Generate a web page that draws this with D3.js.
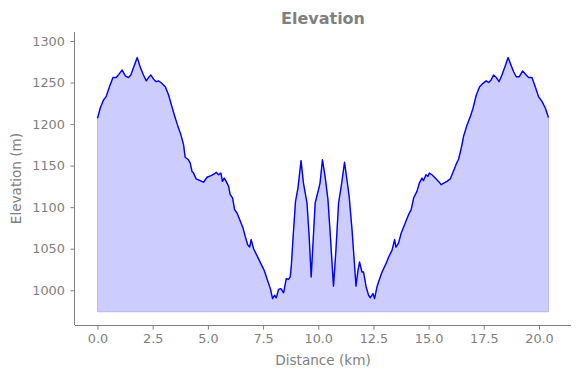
<!DOCTYPE html>
<html>
<head>
<meta charset="utf-8">
<script src="https://cdn.jsdelivr.net/npm/d3@7"></script>
<style>
  body { margin: 0; background: #fff; }
  svg { display: block; font-family: "DejaVu Sans", sans-serif; }
</style>
</head>
<body>
<svg id="chart" width="580" height="378"></svg>
<script>
const distanceKm = [
  0.00, 0.12, 0.27, 0.39, 0.54, 0.70, 0.85, 1.00, 1.12, 1.26, 1.40, 1.51, 1.63, 1.80, 1.93,
  2.08, 2.21, 2.31, 2.42, 2.54, 2.66, 2.76, 2.87, 3.07, 3.22, 3.37, 3.48, 3.62, 3.78, 3.90,
  3.97, 4.12, 4.20, 4.28, 4.35, 4.47, 4.65, 4.80, 4.96, 5.14, 5.29, 5.38, 5.48, 5.59, 5.66,
  5.74, 5.83, 5.94, 6.01, 6.12, 6.21, 6.32, 6.47, 6.59, 6.69, 6.80, 6.89, 6.96, 7.07, 7.22,
  7.40, 7.55, 7.70, 7.83, 7.93, 8.02, 8.10, 8.20, 8.31, 8.43, 8.55, 8.65, 8.73, 8.78, 8.88,
  8.97, 9.08, 9.22, 9.33, 9.49, 9.59, 9.68, 9.86, 10.01, 10.08, 10.19, 10.31, 10.44, 10.54,
  10.69, 10.80, 10.92, 11.04, 11.19, 11.30, 11.40, 11.53, 11.71, 11.80, 11.87, 11.98, 12.05,
  12.17, 12.28, 12.36, 12.48, 12.55, 12.66, 12.73, 12.89, 13.07, 13.19, 13.34, 13.46, 13.52,
  13.64, 13.76, 13.94, 14.09, 14.21, 14.32, 14.47, 14.58, 14.70, 14.77, 14.88, 14.97, 15.03,
  15.15, 15.30, 15.45, 15.57, 15.68, 15.83, 15.98, 16.09, 16.21, 16.25, 16.36, 16.51, 16.58,
  16.74, 16.89, 17.01, 17.16, 17.31, 17.46, 17.61, 17.72, 17.83, 17.94, 18.07, 18.19, 18.32,
  18.47, 18.60, 18.73, 18.85, 18.97, 19.11, 19.26, 19.42, 19.53, 19.68, 19.83, 19.98, 20.14,
  20.29, 20.43
];
const elevationM = [
  1207, 1219, 1229, 1233, 1245, 1256, 1256, 1261, 1265, 1258, 1256, 1259, 1268, 1280, 1269,
  1259, 1252, 1256, 1259, 1254, 1251, 1252, 1250, 1245, 1235, 1221, 1211, 1199, 1187, 1175,
  1160, 1157, 1153, 1143, 1141, 1134, 1132, 1130, 1136, 1138, 1140, 1142, 1139, 1141, 1131,
  1135, 1131, 1125, 1115, 1111, 1097, 1093, 1083, 1075, 1065, 1055, 1052, 1061, 1050, 1042,
  1032, 1024, 1012, 1002, 990, 994, 991, 1001, 1002, 997, 1014, 1013, 1016, 1030, 1072,
  1107, 1123, 1156, 1129, 1105, 1064, 1016, 1105, 1121, 1129, 1157, 1137, 1109, 1069,
  1005, 1048, 1105, 1125, 1154, 1133, 1113, 1073, 1005, 1024, 1034, 1022, 1022,
  1004, 994, 991, 996, 990, 1004, 1010, 1022, 1032, 1040, 1048, 1061, 1052,
  1057, 1069, 1081, 1091, 1097, 1111, 1119, 1129, 1135, 1132, 1139, 1137, 1141,
  1139, 1135, 1131, 1127, 1129, 1131, 1134, 1141, 1149, 1152, 1158, 1175, 1185,
  1199, 1209, 1219, 1235, 1245, 1249, 1252, 1250, 1253, 1259, 1256, 1251, 1259,
  1270, 1280, 1271, 1263, 1257, 1257, 1264, 1259, 1256, 1256, 1245, 1233, 1227,
  1219, 1208
];
const xTicks = [0, 2.5, 5, 7.5, 10, 12.5, 15, 17.5, 20];
const yTicks = [1000, 1050, 1100, 1150, 1200, 1250, 1300];
const fillBase = 974;
const xDomain = [-1.02, 21.45];
const yDomain = [958.2, 1310.8];

const data = distanceKm.map((d, i) => ({ x: d, y: elevationM[i] }));

const svg = d3.select("#chart");
const pLeft = 75, pRight = 571, pTop = 32, pBottom = 325;
const grey = "#808080";

const x = d3.scaleLinear().domain(xDomain).range([pLeft, pRight]);
const y = d3.scaleLinear().domain(yDomain).range([pBottom, pTop]);

// Fill
const area = d3.area().x(d => x(d.x)).y0(y(fillBase)).y1(d => y(d.y));
svg.append("path")
  .datum(data)
  .attr("d", area)
  .attr("fill", "rgba(0,0,255,0.2)")
  .attr("stroke", "rgba(0,0,255,0.2)")
  .attr("stroke-width", 1);

// Line
const line = d3.line().x(d => x(d.x)).y(d => y(d.y));
svg.append("path")
  .datum(data)
  .attr("d", line)
  .attr("fill", "none")
  .attr("stroke", "#0000ff")
  .attr("stroke-width", 1.4)
  .attr("stroke-linejoin", "round");

// Axes
const xAxis = d3.axisBottom(x).tickValues(xTicks).tickFormat(d3.format(".1f")).tickSize(4.6).tickPadding(4.2);
const yAxis = d3.axisLeft(y).tickValues(yTicks).tickFormat(d3.format("d")).tickSize(4.6).tickPadding(5.5);

const gx = svg.append("g").attr("transform", `translate(0,${pBottom})`).call(xAxis);
const gy = svg.append("g").attr("transform", `translate(${pLeft},0)`).call(yAxis);

[gx, gy].forEach(g => {
  g.select(".domain").attr("stroke", grey).attr("stroke-width", 1);
  g.selectAll(".tick line").attr("stroke", grey).attr("stroke-width", 1);
  g.selectAll(".tick text").attr("fill", grey).attr("font-size", "12.8px")
    .attr("font-family", "DejaVu Sans, sans-serif");
});
gx.select(".domain").attr("d", `M${pLeft},0.5H${pRight}`);
gy.select(".domain").attr("d", `M-0.5,${pTop}V${pBottom}`);

// Title and labels
svg.append("text")
  .attr("x", (pLeft + pRight) / 2).attr("y", 24)
  .attr("text-anchor", "middle")
  .attr("font-size", "16px").attr("font-weight", "bold")
  .attr("fill", grey)
  .text("Elevation");

svg.append("text")
  .attr("x", (pLeft + pRight) / 2).attr("y", 365)
  .attr("text-anchor", "middle")
  .attr("font-size", "13.6px")
  .attr("fill", grey)
  .text("Distance (km)");

svg.append("text")
  .attr("transform", `translate(20.5,${(pTop + pBottom) / 2}) rotate(-90)`)
  .attr("text-anchor", "middle")
  .attr("font-size", "13.6px")
  .attr("fill", grey)
  .text("Elevation (m)");
</script>
</body>
</html>
